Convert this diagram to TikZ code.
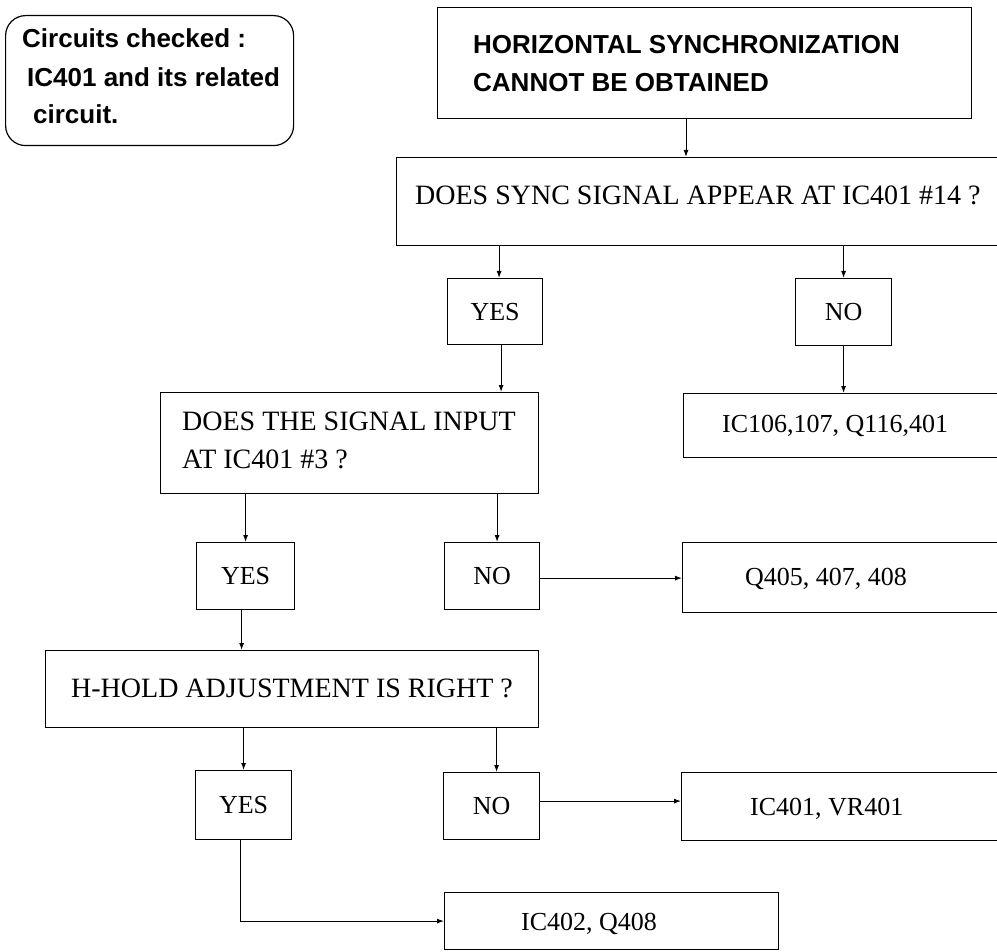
\documentclass[tikz,border=0pt]{standalone}
\usepackage{fontspec}
\setmainfont{Liberation Serif}
\newfontfamily\headsans{Liberation Sans}
\usetikzlibrary{arrows.meta,calc}
\begin{document}
\begin{tikzpicture}[x=1pt,y=-1pt,
  box/.style={draw, line width=1.2pt, inner sep=0pt, anchor=north west},
  arr/.style={line width=1pt, -{Latex[length=7pt,width=5pt]}},
  qfont/.style={font=\fontsize{28}{34}\selectfont},
  afont/.style={font=\fontsize{26}{32}\selectfont},
  hfont/.style={font=\headsans\bfseries\fontsize{26}{32}\selectfont},
  txt/.style={anchor=base west, inner sep=0pt}]
\clip (0,0) rectangle (997,952);
\fill[white] (0,0) rectangle (997,952);

% note box
\node[box, rounded corners=20pt, minimum width=288pt, minimum height=130pt] (note) at (5,15) {};
\node[txt, hfont] (note1) at (22,48) {Circuits checked :};
\node[txt, hfont] (note2) at (27,87) {IC401 and its related};
\node[txt, hfont] (note3) at (33,124) {circuit.};

% start box
\node[box, minimum width=534pt, minimum height=111pt] (top) at (437,7) {};
\node[txt, hfont] (top1) at (473,54) {HORIZONTAL SYNCHRONIZATION};
\node[txt, hfont] (top2) at (473,92) {CANNOT BE OBTAINED};

% first question
\node[box, minimum width=614pt, minimum height=88pt] (sync) at (396,157) {};
\node[txt, qfont] (synct) at (415,205) {DOES SYNC SIGNAL APPEAR AT IC401 \#14 ?};

\node[box, afont, minimum width=95pt, minimum height=66pt] (yes1) at (447,278) {YES};
\node[box, afont, minimum width=96pt, minimum height=67pt] (no1) at (795,278) {NO};
\node[box, minimum width=327pt, minimum height=64pt] (ic106) at (683,393) {};
\node[txt, afont] (ic106t) at (722,432) {IC106,107, Q116,401};

% second question
\node[box, minimum width=378pt, minimum height=101pt] (sig) at (160,392) {};
\node[txt, qfont] (sig1) at (182,430) {DOES THE SIGNAL INPUT};
\node[txt, qfont] (sig2) at (182,468) {AT IC401 \#3 ?};

\node[box, afont, minimum width=98pt, minimum height=67pt] (yes2) at (196,542) {YES};
\node[box, afont, minimum width=95pt, minimum height=67pt] (no2) at (444,542) {NO};
\node[box, minimum width=328pt, minimum height=70pt] (q405) at (682,542) {};
\node[txt, afont] (q405t) at (745,585) {Q405, 407, 408};

% third question
\node[box, minimum width=493pt, minimum height=77pt] (hhold) at (45,650) {};
\node[txt, qfont] (hholdt) at (71,697) {H-HOLD ADJUSTMENT IS RIGHT ?};

\node[box, afont, minimum width=96pt, minimum height=69pt] (yes3) at (195,770) {YES};
\node[box, afont, minimum width=96pt, minimum height=67pt] (no3) at (443,772) {NO};
\node[box, minimum width=329pt, minimum height=68pt] (ic401) at (681,772) {};
\node[txt, afont] (ic401t) at (750,815) {IC401, VR401};
\node[box, minimum width=334pt, minimum height=57pt] (ic402) at (444,892) {};
\node[txt, afont] (ic402t) at (521,930) {IC402, Q408};

% connectors
\draw[arr] (top.south -| 686,0) -- (sync.north -| 686,0);
\draw[arr] ([xshift=4pt]yes1.north |- sync.south) -- ([xshift=4pt]yes1.north);
\draw[arr] (no1.north |- sync.south) -- (no1.north);
\draw[arr] ([xshift=6pt]yes1.south) -- ([xshift=6pt]yes1.south |- sig.north);
\draw[arr] (no1.south) -- (no1.south |- ic106.north);
\draw[arr] (yes2.north |- sig.south) -- (yes2.north);
\draw[arr] ([xshift=5pt]no2.north |- sig.south) -- ([xshift=5pt]no2.north);
\draw[arr] ([yshift=-2pt]no2.east) -- ([yshift=-2pt]no2.east -| q405.west);
\draw[arr] ([xshift=-4pt]yes2.south) -- ([xshift=-4pt]yes2.south |- hhold.north);
\draw[arr] (yes3.north |- hhold.south) -- (yes3.north);
\draw[arr] ([xshift=5pt]no3.north |- hhold.south) -- ([xshift=5pt]no3.north);
\draw[arr] ([yshift=5pt]no3.east) -- ([yshift=5pt]no3.east -| ic401.west);
\draw[arr] ([xshift=-3pt]yes3.south) |- (ic402.west);
\end{tikzpicture}
\end{document}
